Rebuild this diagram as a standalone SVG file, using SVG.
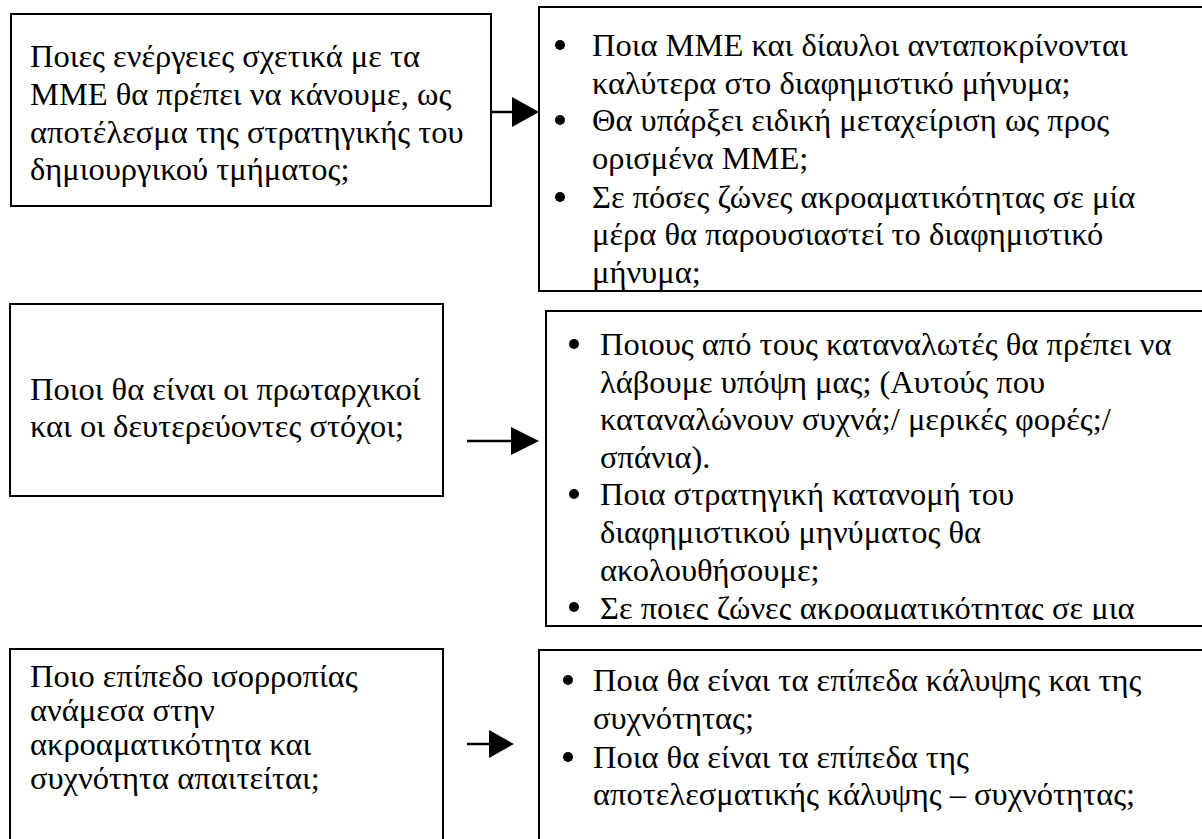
<svg xmlns="http://www.w3.org/2000/svg" width="1202" height="839" viewBox="0 0 1202 839">
<style>
.box{fill:#fff;stroke:#000;stroke-width:2}
.t{font-family:"Liberation Serif","Times New Roman",serif;font-size:32.5px;fill:#000}
.ln{stroke:#000;stroke-width:2.5;fill:none}
.hd{fill:#000}
.b{fill:#000}
</style>
<defs>
<clipPath id="c4"><rect x="540" y="305" width="670" height="315"/></clipPath>
</defs>
<rect width="1202" height="839" fill="#fff"/>
<g id="n1">
<rect class="box" x="11" y="14" width="480" height="192"/>
<text class="t" x="30" y="67">Ποιες ενέργειες σχετικά με τα</text>
<text class="t" x="30" y="105">ΜΜΕ θα πρέπει να κάνουμε, ως</text>
<text class="t" x="30" y="143">αποτέλεσμα της στρατηγικής του</text>
<text class="t" x="30" y="180">δημιουργικού τμήματος;</text>
</g>
<g id="n2">
<rect class="box" x="539" y="7" width="680" height="284"/>
<circle class="b" cx="560" cy="45" r="5"/>
<text class="t" x="592" y="56">Ποια ΜΜΕ και δίαυλοι ανταποκρίνονται</text>
<text class="t" x="592" y="94">καλύτερα στο διαφημιστικό μήνυμα;</text>
<circle class="b" cx="560" cy="120" r="5"/>
<text class="t" x="592" y="131">Θα υπάρξει ειδική μεταχείριση ως προς</text>
<text class="t" x="592" y="169">ορισμένα ΜΜΕ;</text>
<circle class="b" cx="560" cy="197" r="5"/>
<text class="t" x="592" y="208">Σε πόσες ζώνες ακροαματικότητας σε μία</text>
<text class="t" x="592" y="245">μέρα θα παρουσιαστεί το διαφημιστικό</text>
<text class="t" x="592" y="283">μήνυμα;</text>
</g>
<g id="n3">
<rect class="box" x="10" y="304" width="433" height="192"/>
<text class="t" x="30" y="400">Ποιοι θα είναι οι πρωταρχικοί</text>
<text class="t" x="30" y="437">και οι δευτερεύοντες στόχοι;</text>
</g>
<g id="n4">
<rect class="box" x="546" y="311" width="680" height="315"/>
<g clip-path="url(#c4)">
<circle class="b" cx="574" cy="344" r="5"/>
<text class="t" x="600" y="355">Ποιους από τους καταναλωτές θα πρέπει να</text>
<text class="t" x="600" y="393">λάβουμε υπόψη μας; (Αυτούς που</text>
<text class="t" x="600" y="430">καταναλώνουν συχνά;/ μερικές φορές;/</text>
<text class="t" x="600" y="468">σπάνια).</text>
<circle class="b" cx="574" cy="494" r="5"/>
<text class="t" x="600" y="505">Ποια στρατηγική κατανομή του</text>
<text class="t" x="600" y="543">διαφημιστικού μηνύματος θα</text>
<text class="t" x="600" y="581">ακολουθήσουμε;</text>
<circle class="b" cx="574" cy="607" r="5"/>
<text class="t" x="600" y="619">Σε ποιες ζώνες ακροαματικότητας σε μια</text>
</g>
</g>
<g id="n5">
<rect class="box" x="10" y="649" width="433" height="220"/>
<text class="t" x="30" y="687">Ποιο επίπεδο ισορροπίας</text>
<text class="t" x="30" y="721">ανάμεσα στην</text>
<text class="t" x="30" y="755">ακροαματικότητα και</text>
<text class="t" x="30" y="789">συχνότητα απαιτείται;</text>
</g>
<g id="n6">
<rect class="box" x="539" y="650" width="680" height="220"/>
<circle class="b" cx="568" cy="680" r="5"/>
<text class="t" x="593" y="691">Ποια θα είναι τα επίπεδα κάλυψης και της</text>
<text class="t" x="593" y="729">συχνότητας;</text>
<circle class="b" cx="568" cy="757" r="5"/>
<text class="t" x="593" y="768">Ποια θα είναι τα επίπεδα της</text>
<text class="t" x="593" y="805">αποτελεσματικής κάλυψης – συχνότητας;</text>
</g>
<g id="connectors">
<line class="ln" x1="491" y1="112" x2="513" y2="112"/>
<polygon class="hd" points="512,97 539,112 512,127"/>
<line class="ln" x1="467" y1="441" x2="512" y2="441"/>
<polygon class="hd" points="511,427 539,441 511,455"/>
<line class="ln" x1="467" y1="744" x2="490" y2="744"/>
<polygon class="hd" points="489,730 514,744 489,758"/>
</g>
</svg>
